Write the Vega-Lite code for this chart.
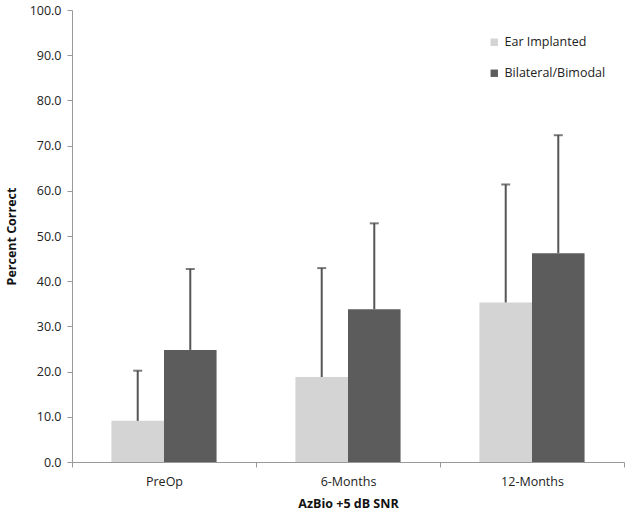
{
  "$schema": "https://vega.github.io/schema/vega-lite/v6.json",
  "width": 643,
  "height": 520,
  "autosize": {"type": "fit", "contains": "padding"},
  "padding": {"left": 5, "right": 18, "top": 4, "bottom": 10},
  "background": "white",
  "config": {
    "font": "Open Sans",
    "view": {"stroke": null},
    "axis": {"labelFont": "Open Sans", "titleFont": "Open Sans", "labelColor": "#222", "titleColor": "#111", "domainColor": "#999", "tickColor": "#999", "grid": false, "labelFontSize": 12.5, "titleFontSize": 12.5, "titleFontWeight": "bold"}
  },
  "data": {
    "values": [
      {"time": "PreOp", "group": "Ear Implanted", "mean": 9.1, "upper": 20.2},
      {"time": "PreOp", "group": "Bilateral/Bimodal", "mean": 24.8, "upper": 42.7},
      {"time": "6-Months", "group": "Ear Implanted", "mean": 18.8, "upper": 42.9},
      {"time": "6-Months", "group": "Bilateral/Bimodal", "mean": 33.8, "upper": 52.8},
      {"time": "12-Months", "group": "Ear Implanted", "mean": 35.3, "upper": 61.4},
      {"time": "12-Months", "group": "Bilateral/Bimodal", "mean": 46.2, "upper": 72.3}
    ]
  },
  "encoding": {
    "x": {
      "field": "time", "type": "nominal", "sort": ["PreOp", "6-Months", "12-Months"],
      "scale": {"paddingInner": 0, "paddingOuter": 0},
      "axis": {"title": "AzBio +5 dB SNR", "labelAngle": 0, "tickBand": "extent", "labelPadding": 8, "titlePadding": 10, "tickSize": 5}
    },
    "xOffset": {
      "field": "group", "type": "nominal", "sort": ["Ear Implanted", "Bilateral/Bimodal"],
      "scale": {"paddingInner": 0, "paddingOuter": 0.75}
    }
  },
  "layer": [
    {
      "mark": {"type": "bar", "stroke": null},
      "encoding": {
        "y": {
          "field": "mean", "type": "quantitative",
          "scale": {"domain": [0, 100], "nice": false},
          "axis": {"title": "Percent Correct", "format": ".1f", "values": [0,10,20,30,40,50,60,70,80,90,100], "labelOverlap": false, "labelPadding": 6, "titlePadding": 11, "tickSize": 5}
        },
        "color": {
          "field": "group", "type": "nominal", "sort": ["Ear Implanted", "Bilateral/Bimodal"],
          "scale": {"domain": ["Ear Implanted", "Bilateral/Bimodal"], "range": ["#d4d4d4", "#5c5c5c"]},
          "legend": {"title": null, "orient": "none", "legendX": 416, "legendY": 26, "symbolType": "square", "symbolSize": 55, "labelFontSize": 12.5, "labelFont": "Open Sans", "labelColor": "#222", "rowPadding": 18, "symbolStrokeWidth": 0}
        }
      }
    },
    {
      "mark": {"type": "rule", "color": "#555", "strokeWidth": 2},
      "encoding": {
        "y": {"field": "mean", "type": "quantitative", "scale": {"domain": [0, 100], "nice": false},
          "axis": {"title": "Percent Correct", "format": ".1f", "values": [0,10,20,30,40,50,60,70,80,90,100], "labelOverlap": false, "labelPadding": 6, "titlePadding": 11, "tickSize": 5}},
        "y2": {"field": "upper"}
      }
    },
    {
      "mark": {"type": "tick", "color": "#444", "thickness": 2, "size": 9, "orient": "horizontal"},
      "encoding": {
        "y": {"field": "upper", "type": "quantitative", "scale": {"domain": [0, 100], "nice": false},
          "axis": {"title": "Percent Correct", "format": ".1f", "values": [0,10,20,30,40,50,60,70,80,90,100], "labelOverlap": false, "labelPadding": 6, "titlePadding": 11, "tickSize": 5}}
      }
    }
  ]
}
